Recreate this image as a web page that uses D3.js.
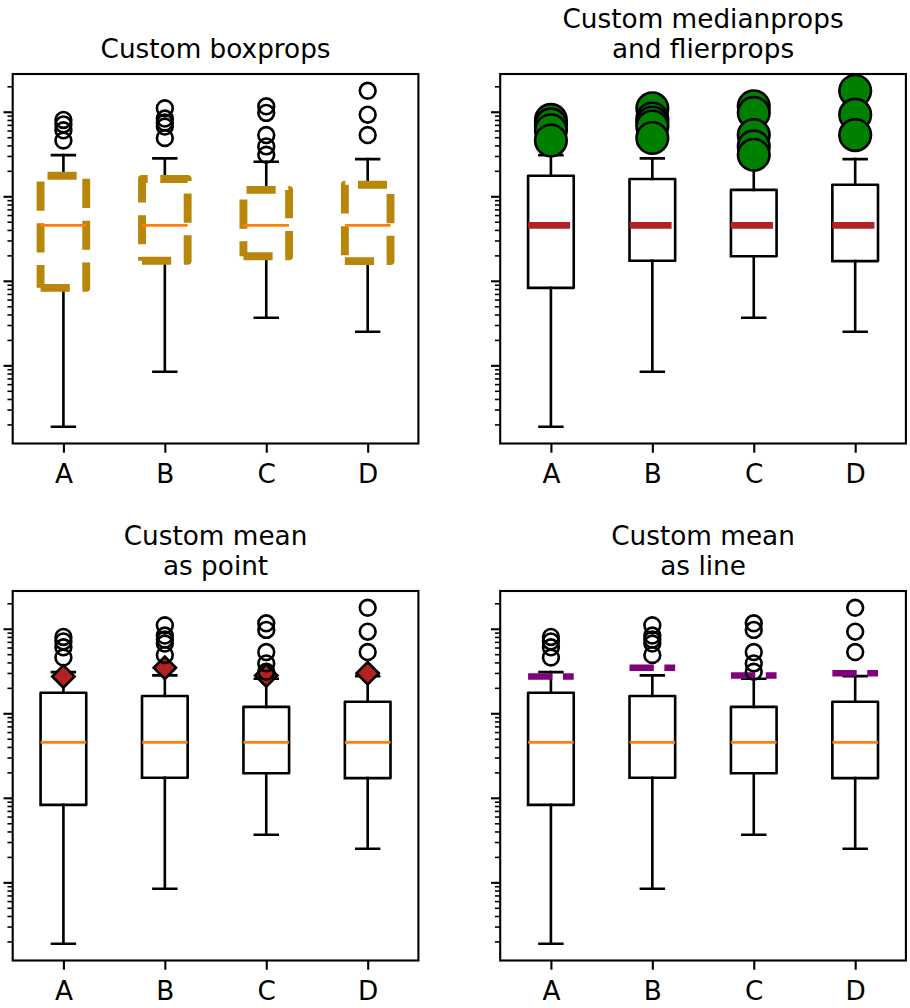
<!DOCTYPE html>
<html>
<head>
<meta charset="utf-8">
<script src="https://cdn.jsdelivr.net/npm/d3@7"></script>
<style>
  body { margin: 0; background: #fff; }
  svg { display: block; font-family: "DejaVu Sans", sans-serif; }
</style>
</head>
<body>
<div id="chart"></div>
<script>
// values (log-scaled y axis, labels hidden)
const categories  = ["A", "B", "C", "D"];
const whiskerLow  = [0.0188, 0.0841, 0.366, 0.25];
const quartile1   = [0.826, 1.73, 1.95, 1.71];
const medians     = [4.53, 4.53, 4.53, 4.53];
const quartile3   = [17.5, 16.0, 11.9, 13.7];
const whiskerHigh = [30.7, 28.1, 25.6, 27.5];
const means       = [27.3, 34.6, 28.0, 29.7];
const fliers = [
  [80.0, 70.8, 60.3, 45.7],
  [110, 83.1, 74.5, 66.8, 48.9],
  [116, 97.0, 53.0, 38.9, 31.0],
  [177, 92.3, 53.0]
];
const titles = [
  ["Custom boxprops"],
  ["Custom medianprops", "and flierprops"],
  ["Custom mean", "as point"],
  ["Custom mean", "as line"]
];

const width = 910, height = 1008;
const pt = 2.63, fs = 26.3;
const colX = [12.7, 500.2], rowY = [74, 591];
const axW = 405.7, axH = 369.5;
const boxW = 0.45, capW = 0.225;

const svg = d3.select("#chart").append("svg")
  .attr("width", width)
  .attr("height", height);

svg.append("rect").attr("width", width).attr("height", height).attr("fill", "#fff");

// shared y limits: data extent padded by 5% in log space
const allVals = whiskerLow.concat(whiskerHigh, means, fliers.flat());
const lmin = Math.log10(d3.min(allVals)), lmax = Math.log10(d3.max(allVals));
const pad = (lmax - lmin) * 0.05;
const yDomain = [Math.pow(10, lmin - pad), Math.pow(10, lmax + pad)];

const stats = categories.map((c, i) => ({
  i: i + 1, name: c,
  lo: whiskerLow[i], q1: quartile1[i], med: medians[i],
  q3: quartile3[i], hi: whiskerHigh[i], mean: means[i], fliers: fliers[i]
}));

titles.forEach((t, k) => {
  const x0 = colX[k % 2], y0 = rowY[Math.floor(k / 2)];
  const x = d3.scaleLinear().domain([0.5, 4.5]).range([x0, x0 + axW]);
  const y = d3.scaleLog().domain(yDomain).range([y0 + axH, y0]);

  const clipId = "clip" + k;
  svg.append("clipPath").attr("id", clipId)
    .append("rect").attr("x", x0).attr("y", y0).attr("width", axW).attr("height", axH);

  const g = svg.append("g").attr("clip-path", `url(#${clipId})`);

  const groups = g.selectAll(".bx").data(stats).enter().append("g").attr("class", "bx");

  // whiskers
  groups.selectAll(".whisker")
    .data(d => [[d.q1, d.lo], [d.q3, d.hi]].map(v => ({ d, v })))
    .enter().append("line")
    .attr("x1", e => x(e.d.i)).attr("x2", e => x(e.d.i))
    .attr("y1", e => y(e.v[0])).attr("y2", e => y(e.v[1]))
    .attr("stroke", "#000").attr("stroke-width", pt).attr("stroke-linecap", "square");

  // caps
  groups.selectAll(".cap")
    .data(d => [d.lo, d.hi].map(v => ({ d, v })))
    .enter().append("line")
    .attr("x1", e => x(e.d.i - capW / 2)).attr("x2", e => x(e.d.i + capW / 2))
    .attr("y1", e => y(e.v)).attr("y2", e => y(e.v))
    .attr("stroke", "#000").attr("stroke-width", pt).attr("stroke-linecap", "square");

  // boxes
  const line = d3.line();
  const box = groups.append("path")
    .attr("d", d => {
      const l = x(d.i - boxW / 2), r = x(d.i + boxW / 2);
      return line([[l, y(d.q1)], [r, y(d.q1)], [r, y(d.q3)], [l, y(d.q3)], [l, y(d.q1)]]);
    })
    .attr("fill", "none")
    .attr("stroke-linejoin", "round");
  if (k === 0) {
    box.attr("stroke", "#b8860b").attr("stroke-width", 3 * pt)
      .attr("stroke-dasharray", [3.7 * 3 * pt, 1.6 * 3 * pt].join(","))
      .attr("stroke-linecap", "butt");
  } else {
    box.attr("stroke", "#000").attr("stroke-width", pt).attr("stroke-linecap", "square");
  }

  // medians
  const med = groups.append("line")
    .attr("x1", d => x(d.i - boxW / 2)).attr("x2", d => x(d.i + boxW / 2))
    .attr("y1", d => y(d.med)).attr("y2", d => y(d.med));
  if (k === 1) {
    med.attr("stroke", "#b22222").attr("stroke-width", 2.5 * pt)
      .attr("stroke-dasharray", [6.4, 1.6, 1, 1.6].map(v => v * 2.5 * pt).join(","));
  } else {
    med.attr("stroke", "#ff7f0e").attr("stroke-width", pt);
  }

  // means
  if (k === 2) {
    groups.append("path")
      .attr("d", d3.symbol(d3.symbolSquare, Math.pow(6 * pt, 2)))
      .attr("transform", d => `translate(${x(d.i)},${y(d.mean)}) rotate(45)`)
      .attr("fill", "#b22222").attr("stroke", "#000").attr("stroke-width", pt);
  } else if (k === 3) {
    groups.append("line")
      .attr("x1", d => x(d.i - boxW / 2)).attr("x2", d => x(d.i + boxW / 2))
      .attr("y1", d => y(d.mean)).attr("y2", d => y(d.mean))
      .attr("stroke", "#800080").attr("stroke-width", 2.5 * pt)
      .attr("stroke-dasharray", [3.7 * 2.5 * pt, 1.6 * 2.5 * pt].join(","));
  }

  // fliers
  groups.selectAll(".flier")
    .data(d => d.fliers.map(v => ({ d, v })))
    .enter().append("circle")
    .attr("cx", e => x(e.d.i)).attr("cy", e => y(e.v))
    .attr("r", k === 1 ? 6 * pt : 3 * pt)
    .attr("fill", k === 1 ? "green" : "none")
    .attr("stroke", "#000").attr("stroke-width", pt);

  // y axis: major and minor ticks, no labels
  const ticks = y.ticks();
  const major = ticks.filter(v => Math.abs(Math.log10(v) - Math.round(Math.log10(v))) < 1e-6);
  const minor = ticks.filter(v => major.indexOf(v) < 0);

  const yMajor = svg.append("g").attr("transform", `translate(${x0},0)`)
    .call(d3.axisLeft(y).tickValues(major).tickFormat("").tickSize(3.5 * pt));
  yMajor.select(".domain").remove();
  yMajor.selectAll(".tick line").attr("stroke-width", 0.8 * pt);

  const yMinor = svg.append("g").attr("transform", `translate(${x0},0)`)
    .call(d3.axisLeft(y).tickValues(minor).tickFormat("").tickSize(2 * pt));
  yMinor.select(".domain").remove();
  yMinor.selectAll(".tick line").attr("stroke-width", 0.6 * pt);

  // x axis
  const xAxis = svg.append("g").attr("transform", `translate(0,${y0 + axH})`)
    .call(d3.axisBottom(x).tickValues([1, 2, 3, 4])
      .tickFormat(v => categories[v - 1]).tickSize(3.5 * pt).tickPadding(11.6));
  xAxis.select(".domain").remove();
  xAxis.selectAll(".tick line").attr("stroke-width", 0.8 * pt);
  xAxis.selectAll(".tick text")
    .attr("font-family", "DejaVu Sans").attr("font-size", fs).attr("fill", "#000");

  // spines
  svg.append("rect")
    .attr("x", x0).attr("y", y0).attr("width", axW).attr("height", axH)
    .attr("fill", "none").attr("stroke", "#000").attr("stroke-width", 0.8 * pt);

  // title
  const lines = t.length;
  svg.append("g").selectAll("text").data(t).enter().append("text")
    .attr("x", x0 + axW / 2)
    .attr("y", (d, j) => y0 - 6 * pt - (lines - 1 - j) * 30)
    .attr("text-anchor", "middle")
    .attr("font-size", fs)
    .attr("fill", "#000")
    .text(d => d);
});
</script>
</body>
</html>
